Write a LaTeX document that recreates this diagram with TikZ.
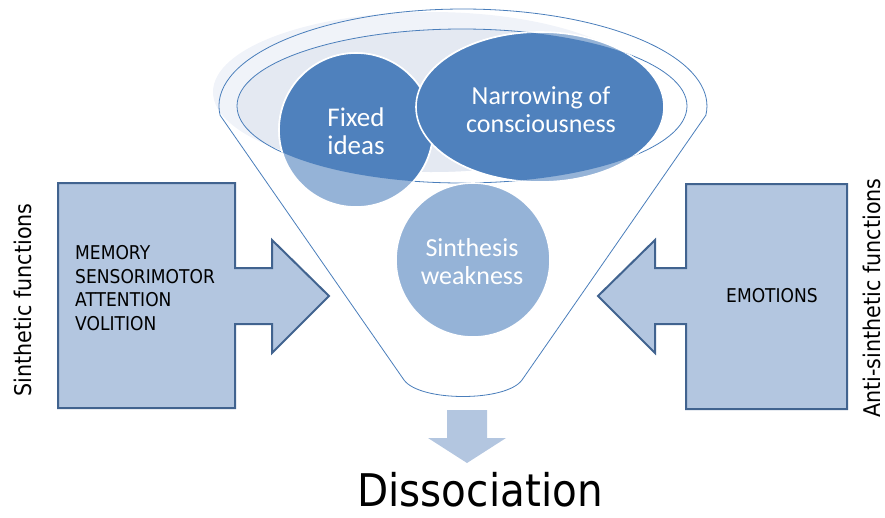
\documentclass[tikz,border=0pt]{standalone}
\usepackage{fontspec}
\newfontfamily\labelfont[FakeStretch=0.9]{DejaVu Sans}
\newfontfamily\bubblefont{Carlito}
\definecolor{darkbubble}{HTML}{4F81BD}
\definecolor{lightbubble}{HTML}{95B3D7}
\definecolor{boxfill}{HTML}{B3C6E0}
\definecolor{boxedge}{HTML}{41638F}
\definecolor{haze}{HTML}{F0F3F9}
\definecolor{hazedark}{HTML}{E4E9F2}
\definecolor{funnelblue}{HTML}{4A7EBB}
\begin{document}
\begin{tikzpicture}[x=1pt,y=-1pt,
  funnelline/.style={draw=funnelblue,line width=0.8pt},
  bubbleedge/.style={draw=white,line width=1.6pt},
  bubbletext/.style={text=white,align=center,inner sep=0pt,
    font=\bubblefont\fontsize{26}{28}\selectfont},
  boxarrow/.style={fill=boxfill,draw=boxedge,line width=2pt,line join=miter},
  boxtext/.style={text=black,inner sep=0pt,
    font=\labelfont\fontsize{19}{23.5}\selectfont},
  sidelabel/.style={text=black,inner sep=0pt,rotate=90,
    font=\labelfont\fontsize{23}{26}\selectfont}]
\useasboundingbox (0,0) rectangle (885,517);

% hazy top of the funnel
\fill[haze] (431,92) ellipse [x radius=218, y radius=80];
\begin{scope}
  \clip (462,106) ellipse [x radius=225, y radius=77];
  \fill[hazedark] (431,92) ellipse [x radius=218, y radius=80];
\end{scope}

% funnel outline: rim arc, cone and spout
\coordinate (rimL) at (220.1,115.3);
\coordinate (spoutR) at (522,380);
\coordinate (spoutL) at (404,380);
\draw[funnelline] (rimL) arc[start angle=174.5, end angle=365.5, x radius=244, y radius=97]
  -- (spoutR) .. controls (506,402) and (420,402) .. (spoutL) -- cycle;
\draw[funnelline] (462,106) ellipse [x radius=225, y radius=77];

% bubbles, pale outside the inner rim
\filldraw[fill=lightbubble,bubbleedge] (356,130) circle [radius=77];
\filldraw[fill=lightbubble,bubbleedge] (540,107) ellipse [x radius=124, y radius=75];
\filldraw[fill=lightbubble,bubbleedge] (473,260) circle [radius=77];
% bubbles, deep inside the inner rim
\begin{scope}
  \clip (462,106) ellipse [x radius=225, y radius=77];
  \filldraw[fill=darkbubble,bubbleedge] (356,130) circle [radius=77];
  \filldraw[fill=darkbubble,bubbleedge] (540,107) ellipse [x radius=124, y radius=75];
\end{scope}

\node[bubbletext,font=\bubblefont\fontsize{27}{28}\selectfont] (fixed) at (356,131) {Fixed\\ideas};
\node[bubbletext] (narrow) at (541,110) {Narrowing of\\consciousness};
\node[bubbletext] (weak) at (472,262) {Sinthesis\\weakness};

% left block arrow
\filldraw[boxarrow] (58,183) -- (235,183) -- (235,268) -- (272,268) -- (272,240)
  -- (329,296) -- (272,353) -- (272,324) -- (235,324) -- (235,408) -- (58,408) -- cycle;
\node[boxtext,align=left,anchor=west] (synthlist) at (75,288)
  {MEMORY\\SENSORIMOTOR\\ATTENTION\\VOLITION};

% right block arrow
\filldraw[boxarrow] (847,184) -- (686,184) -- (686,268) -- (655,268) -- (655,240)
  -- (598,296) -- (655,353) -- (655,324) -- (686,324) -- (686,409) -- (847,409) -- cycle;
\node[boxtext] (emotions) at (772,296) {EMOTIONS};

% side captions
\node[sidelabel] (synthcap) at (23,300) {Sinthetic functions};
\node[sidelabel] (anticap) at (872,298) {Anti-sinthetic functions};

% outcome
\fill[boxfill] (447,410) -- (487,410) -- (487,438) -- (506,438) -- (467,463)
  -- (428,438) -- (447,438) -- cycle;
\node[text=black,inner sep=0pt,anchor=base,font=\labelfont\fontsize{45}{50}\selectfont]
  (dissoc) at (480,506) {Dissociation};
\end{tikzpicture}
\end{document}
